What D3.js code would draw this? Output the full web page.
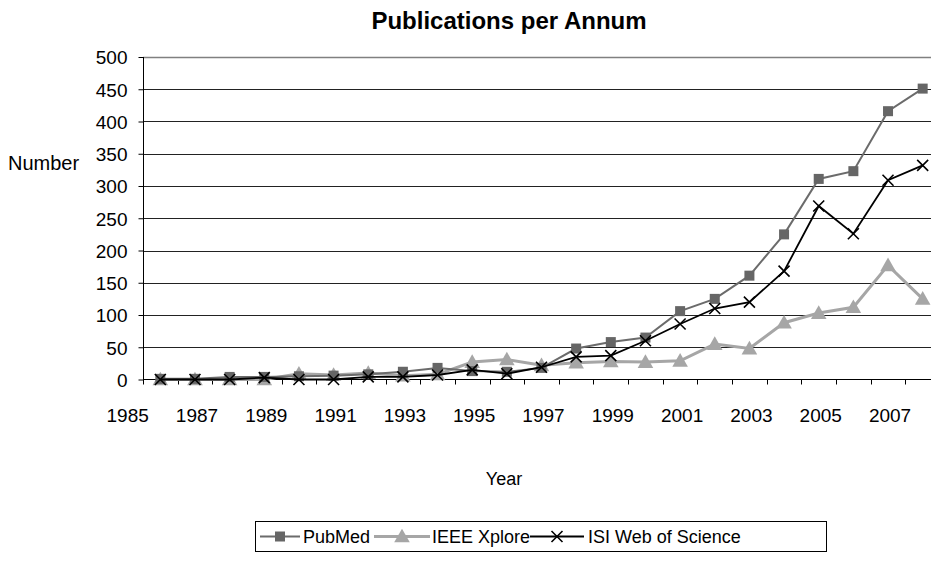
<!DOCTYPE html>
<html><head><meta charset="utf-8">
<script src="https://cdn.jsdelivr.net/npm/d3@7"></script>
<style>body{margin:0;background:#fff;} svg{display:block;} text{font-family:"Liberation Sans",Arial,sans-serif;fill:#000;}</style>
</head><body>
<svg id="c" width="931" height="562"></svg>
<script>
const years = [1986,1987,1988,1989,1990,1991,1992,1993,1994,1995,1996,1997,1998,1999,2000,2001,2002,2003,2004,2005,2006,2007,2008];
const pubmed = [1,1,4,4,5,6,8,12,18,13,12,18,48,58,65,106,125,161,225,311,323,416,451];
const ieee   = [0,0,0,0,9,7,10,6,8,27,31,22,26,28,27,29,55,48,88,103,112,177,125];
const isi    = [0,0,0,3,0,0,4,4,7,15,9,19,35,37,60,86,110,120,168,269,226,309,332];
const xTickLabels = [1985,1987,1989,1991,1993,1995,1997,1999,2001,2003,2005,2007];
const yTicks = [0,50,100,150,200,250,300,350,400,450,500];
const seriesNames = ["PubMed","IEEE Xplore","ISI Web of Science"];

const svg = d3.select("#c");
const x = d3.scaleLinear().domain([1985.5, 2008.5]).range([143, 940]);
const y = d3.scaleLinear().domain([0, 500]).range([379.5, 57]);

// title
svg.append("text").attr("x",509).attr("y",29).attr("text-anchor","middle")
  .style("font-size","24px").style("font-weight","bold").text("Publications per Annum");

// gridlines
svg.append("g").selectAll("line").data(yTicks.filter(d=>d>0)).join("line")
  .attr("x1",143).attr("x2",931).attr("y1",d=>Math.round(y(d))+0.5).attr("y2",d=>Math.round(y(d))+0.5)
  .attr("stroke",d=>d===500?"#808080":"#222").attr("stroke-width",d=>d===500?1.5:1);

// y axis
const ya = svg.append("g").attr("transform","translate(143.5,0)")
  .call(d3.axisLeft(y).tickValues(yTicks).tickSize(5).tickPadding(11).tickFormat(d3.format("d")));
ya.select(".domain").attr("stroke","#000").attr("d","M0,57V380");
ya.selectAll("line").attr("stroke","#000");
ya.selectAll("text").style("font-size","19px").attr("font-family",null).attr("dy","0.36em");

// x axis
const halfTicks = d3.range(1985.5, 2009, 1);
const xa = svg.append("g").attr("transform","translate(0,379.5)");
xa.append("line").attr("x1",143).attr("x2",931).attr("stroke","#000");
xa.selectAll("line.t").data(halfTicks).join("line").attr("class","t")
  .attr("x1",d=>Math.round(x(d))+0.5).attr("x2",d=>Math.round(x(d))+0.5).attr("y1",0).attr("y2",5).attr("stroke","#000");
xa.selectAll("text").data(xTickLabels).join("text")
  .attr("x",d=>x(d)+2).attr("y",42).attr("text-anchor","middle").style("font-size","19px").text(d=>d);

// axis titles
svg.append("text").attr("x",8).attr("y",170).style("font-size","20px").text("Number");
svg.append("text").attr("x",504).attr("y",485).attr("text-anchor","middle").style("font-size","18px").text("Year");

const line = d3.line().x((d,i)=>x(years[i])).y(d=>y(d));
const plot = svg.append("g");

function square(g, cx, cy, s, fill){ g.append("rect").attr("x",cx-s/2).attr("y",cy-s/2).attr("width",s).attr("height",s).attr("fill",fill); }
function tri(g, cx, cy, s, fill){ g.append("path").attr("d",`M${cx},${cy-s*0.6}L${cx+s*0.6},${cy+s*0.45}L${cx-s*0.6},${cy+s*0.45}Z`).attr("fill",fill); }
function cross(g, cx, cy, s, stroke){ g.append("path").attr("d",`M${cx-s},${cy-s}L${cx+s},${cy+s}M${cx-s},${cy+s}L${cx+s},${cy-s}`).attr("stroke",stroke).attr("stroke-width",1.6).attr("fill","none"); }

// IEEE
plot.append("path").datum(ieee).attr("d",line).attr("fill","none").attr("stroke","#a6a6a6").attr("stroke-width",3);
ieee.forEach((v,i)=>tri(plot, x(years[i]), y(v), 13, "#a6a6a6"));
// PubMed
plot.append("path").datum(pubmed).attr("d",line).attr("fill","none").attr("stroke","#6b6b6b").attr("stroke-width",2);
pubmed.forEach((v,i)=>square(plot, x(years[i]), y(v), 10, "#666"));
// ISI
plot.append("path").datum(isi).attr("d",line).attr("fill","none").attr("stroke","#000").attr("stroke-width",1.8);
isi.forEach((v,i)=>cross(plot, x(years[i]), y(v), 5.5, "#000"));

// legend
const lg = svg.append("g");
lg.append("rect").attr("x",255.5).attr("y",521.5).attr("width",571).attr("height",30).attr("fill","none").attr("stroke","#000");
const ly = 536.5;
const items = [
  {x1:260,x2:300,tx:303,type:"sq"},
  {x1:374,x2:430,tx:432,type:"tri"},
  {x1:530,x2:584,tx:588,type:"x"}
];
items.forEach((it,i)=>{
  const mx=(it.x1+it.x2)/2;
  if(it.type==="sq"){ lg.append("line").attr("x1",it.x1).attr("x2",it.x2).attr("y1",ly).attr("y2",ly).attr("stroke","#6b6b6b").attr("stroke-width",2); square(lg,mx,ly,10,"#666"); }
  if(it.type==="tri"){ lg.append("line").attr("x1",it.x1).attr("x2",it.x2).attr("y1",ly).attr("y2",ly).attr("stroke","#a6a6a6").attr("stroke-width",3); tri(lg,mx,ly,13,"#a6a6a6"); }
  if(it.type==="x"){ lg.append("line").attr("x1",it.x1).attr("x2",it.x2).attr("y1",ly).attr("y2",ly).attr("stroke","#000").attr("stroke-width",1.8); cross(lg,mx,ly,5.5,"#000"); }
  lg.append("text").attr("x",it.tx).attr("y",ly+6.5).style("font-size","18px").text(seriesNames[i]);
});
</script>
</body></html>
